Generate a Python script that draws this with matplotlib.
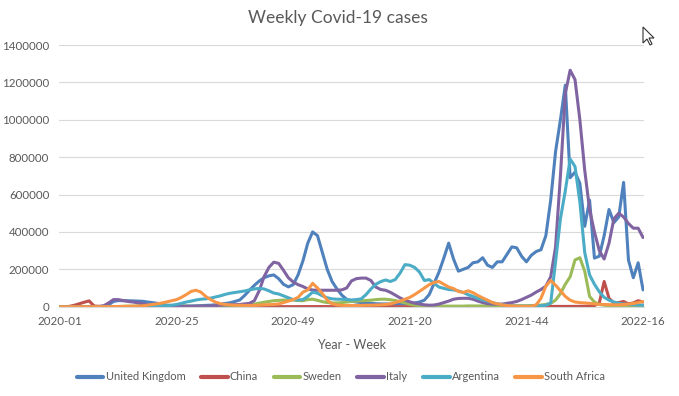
import matplotlib
matplotlib.use("Agg")
import matplotlib.pyplot as plt
from matplotlib.patches import Polygon
from matplotlib.ticker import MultipleLocator, FuncFormatter

# weekly cases (thousands), one value per week from 2020-01 to 2022-16
uk = [0, 0, 0, 0, 0, 0, 0, 0, 0.5, 2,
      10, 28, 33, 32, 32, 31, 30, 29, 25, 22,
      18, 12, 8, 6, 5, 4, 4, 4, 5, 6,
      7, 8, 10, 13, 17, 21, 28, 36, 60, 88,
      114, 137, 155, 165, 170, 150, 120, 106, 118, 170,
      245, 340, 400, 380, 290, 200, 135, 95, 62, 40,
      30, 25, 22, 20, 18, 16, 15, 15, 14, 14,
      15, 15, 17, 20, 25, 35, 65, 125, 185, 260,
      340, 255, 190, 200, 210, 235, 240, 262, 222, 210,
      240, 240, 280, 320, 315, 270, 240, 275, 295, 305,
      380, 570, 830, 1000, 1185, 690, 720, 660, 430, 570,
      260, 270, 380, 520, 450, 480, 665, 250, 155, 235,
      90]
china = [0, 0, 2, 8, 16, 24, 31, 4, 2, 1,
         0.5, 0.5, 0.5, 0.5, 0.4, 0.3, 0.3, 0.2, 0.2, 0.2,
         0.2, 0.2, 0.2, 0.3, 0.3, 0.3, 0.3, 0.3, 0.4, 0.4,
         0.4, 0.3, 0.3, 0.3, 0.3, 0.3, 0.3, 0.3, 0.3, 0.3,
         0.3, 0.3, 0.3, 0.3, 0.3, 0.3, 0.3, 0.3, 0.3, 0.4,
         0.4, 0.5, 0.6, 0.7, 0.6, 0.5, 0.4, 0.3, 0.3, 0.3,
         0.3, 0.3, 0.3, 0.3, 0.3, 0.3, 0.3, 0.3, 0.3, 0.3,
         0.3, 0.3, 0.3, 0.3, 0.3, 0.4, 0.5, 0.6, 0.8, 0.7,
         0.6, 0.5, 0.4, 0.4, 0.4, 0.5, 0.5, 0.6, 0.6, 0.7,
         0.7, 0.8, 0.8, 0.9, 1, 1, 1, 1.2, 1.2, 1.3,
         1.5, 1.5, 1.5, 1.5, 1.5, 1.5, 1.6, 1.8, 2, 3,
         6, 20, 135, 45, 20, 22, 28, 15, 20, 32,
         25]
sweden = [0, 0, 0, 0, 0, 0, 0, 0, 0, 0,
          0.3, 0.5, 1, 2, 3, 3, 4, 4, 4, 4,
          5, 6, 7, 7, 6, 5, 3, 2, 2, 2,
          1.5, 1.5, 1.5, 1.5, 2, 2, 3, 4, 6, 9,
          14, 19, 24, 28, 32, 34, 35, 36, 36, 33,
          32, 38, 40, 34, 27, 22, 20, 20, 22, 25,
          28, 30, 32, 33, 35, 38, 40, 40, 37, 33,
          27, 20, 13, 8, 5, 3, 3, 3, 3, 3,
          3, 3, 3, 3, 4, 4, 4, 4, 4, 4,
          4, 4, 4, 5, 5, 5, 5, 6, 7, 9,
          12, 18, 35, 70, 120, 160, 250, 262, 190, 55,
          25, 12, 8, 6, 5, 4, 4, 3, 3, 3,
          3]
italy = [0, 0, 0, 0, 0, 0, 0, 0.3, 1, 5,
         20, 38, 38, 33, 28, 25, 21, 16, 10, 6,
         3.5, 2.5, 2, 1.5, 1.5, 1.5, 1.5, 1.7, 2, 2.5,
         3.5, 4.5, 6, 8, 9, 10, 11, 12, 15, 18,
         32, 85, 160, 210, 238, 232, 195, 155, 132, 118,
         108, 95, 89, 88, 88, 88, 88, 88, 90, 100,
         138, 150, 153, 153, 140, 105, 92, 88, 77, 62,
         47, 35, 26, 19, 14, 10, 8, 9, 14, 22,
         30, 40, 44, 45, 45, 40, 30, 22, 16, 14,
         13, 14, 18, 22, 28, 38, 50, 62, 78, 92,
         110, 160, 320, 700, 1140, 1265, 1215, 1000, 730, 520,
         400, 300, 255, 340, 470, 500, 480, 445, 420, 420,
         370]
argentina = [0, 0, 0, 0, 0, 0, 0, 0, 0, 0,
             0.1, 0.3, 0.5, 0.7, 0.8, 1, 1.2, 1.5, 2, 3,
             4, 5, 6, 8, 12, 18, 25, 30, 36, 40,
             42, 46, 52, 58, 66, 72, 76, 80, 84, 90,
             95, 98, 95, 85, 73, 68, 58, 48, 38, 36,
             38, 55, 78, 72, 58, 48, 42, 40, 40, 38,
             36, 38, 42, 65, 95, 120, 134, 143, 135, 145,
             180, 225, 222, 210, 185, 140, 145, 125, 105, 98,
             92, 90, 84, 76, 64, 55, 45, 36, 30, 22,
             15, 10, 7, 4, 3, 3, 3, 3, 4, 5,
             8, 20, 240, 470, 620, 790, 750, 560, 290, 170,
             120, 80, 50, 35, 25, 18, 15, 12, 10, 9,
             8]
south_africa = [0, 0, 0, 0, 0, 0, 0, 0, 0, 0.1,
                0.3, 0.8, 1, 1.5, 2, 2.5, 3, 5, 8, 12,
                15, 20, 26, 32, 38, 50, 65, 82, 88, 78,
                55, 38, 25, 16, 12, 10, 8, 8, 7, 7,
                7, 8, 10, 11, 12, 15, 22, 30, 38, 50,
                78, 90, 125, 100, 70, 35, 16, 9, 7, 6,
                6, 6, 7, 8, 8, 9, 10, 12, 15, 22,
                30, 40, 50, 65, 82, 100, 118, 130, 135, 120,
                105, 97, 82, 76, 85, 75, 60, 47, 35, 22,
                15, 10, 6, 4, 3, 2, 2, 2, 10, 45,
                110, 140, 115, 85, 55, 35, 25, 22, 20, 18,
                15, 13, 12, 11, 10, 10, 12, 14, 17, 22,
                28]

countries = ["United Kingdom", "China", "Sweden", "Italy", "Argentina", "South Africa"]
colors = ["#4F81BD", "#C0504D", "#9BBB59", "#8064A2", "#4BACC6", "#F79646"]

weeks = ([f"2020-{w:02d}" for w in range(1, 54)] +
         [f"2021-{w:02d}" for w in range(1, 53)] +
         [f"2022-{w:02d}" for w in range(1, 17)])

plt.rcParams['font.family'] = ['Lato', 'DejaVu Sans']
text_col = "#595959"
grid_col = "#D9D9D9"

W, H = 679, 396
fig = plt.figure(figsize=(W / 100, H / 100), dpi=100)
ax = fig.add_axes([59 / W, 1 - 306.7 / H, 585 / W, (306.7 - 45) / H])

x = list(range(len(weeks)))
for name, vals, c in zip(countries, [uk, china, sweden, italy, argentina, south_africa], colors):
    ax.plot(x, [v * 1000 for v in vals], color=c, lw=2.2, label=name,
            solid_joinstyle="round", solid_capstyle="round")

ax.set_xlim(-0.2, len(weeks) - 0.8)
ax.set_ylim(0, 1400000)
ax.yaxis.set_major_locator(MultipleLocator(200000))
ax.yaxis.set_major_formatter(FuncFormatter(lambda v, p: f"{int(v)}"))
ax.set_xticks(x[::24])
ax.set_xticklabels(weeks[::24])
ax.tick_params(axis="both", length=0, colors=text_col, labelsize=8.3)
ax.tick_params(axis="x", pad=7)
ax.tick_params(axis="y", pad=7)
ax.grid(axis="y", color=grid_col, lw=0.8)
ax.set_axisbelow(True)
for s in ["top", "left", "right"]:
    ax.spines[s].set_visible(False)
ax.spines["bottom"].set_color(grid_col)
ax.spines["bottom"].set_linewidth(0.8)

ax.set_xlabel("Year - Week", color=text_col, fontsize=9, labelpad=8)
fig.text(338 / W, 1 - 18 / H, "Weekly Covid-19 cases", ha="center", va="center",
         color=text_col, fontsize=12.5)

leg = fig.legend(loc="center", bbox_to_anchor=(341 / W, 1 - 377 / H), ncol=6, frameon=False,
                 fontsize=8, labelcolor=text_col, handlelength=2.4, handletextpad=0.2,
                 columnspacing=1.4)
for line in leg.get_lines():
    line.set_linewidth(3)

# mouse pointer left in the screenshot
cur = [(0, 0), (0, 16), (4, 12), (7, 18), (9, 17), (6, 11), (11, 11)]
pts = [((643 + px) / W, 1 - (27 + py) / H) for px, py in cur]
fig.patches.append(Polygon(pts, closed=True, facecolor="white", edgecolor="#333333",
                           lw=0.8, transform=fig.transFigure, figure=fig))

fig.savefig("out.png", dpi=100)
